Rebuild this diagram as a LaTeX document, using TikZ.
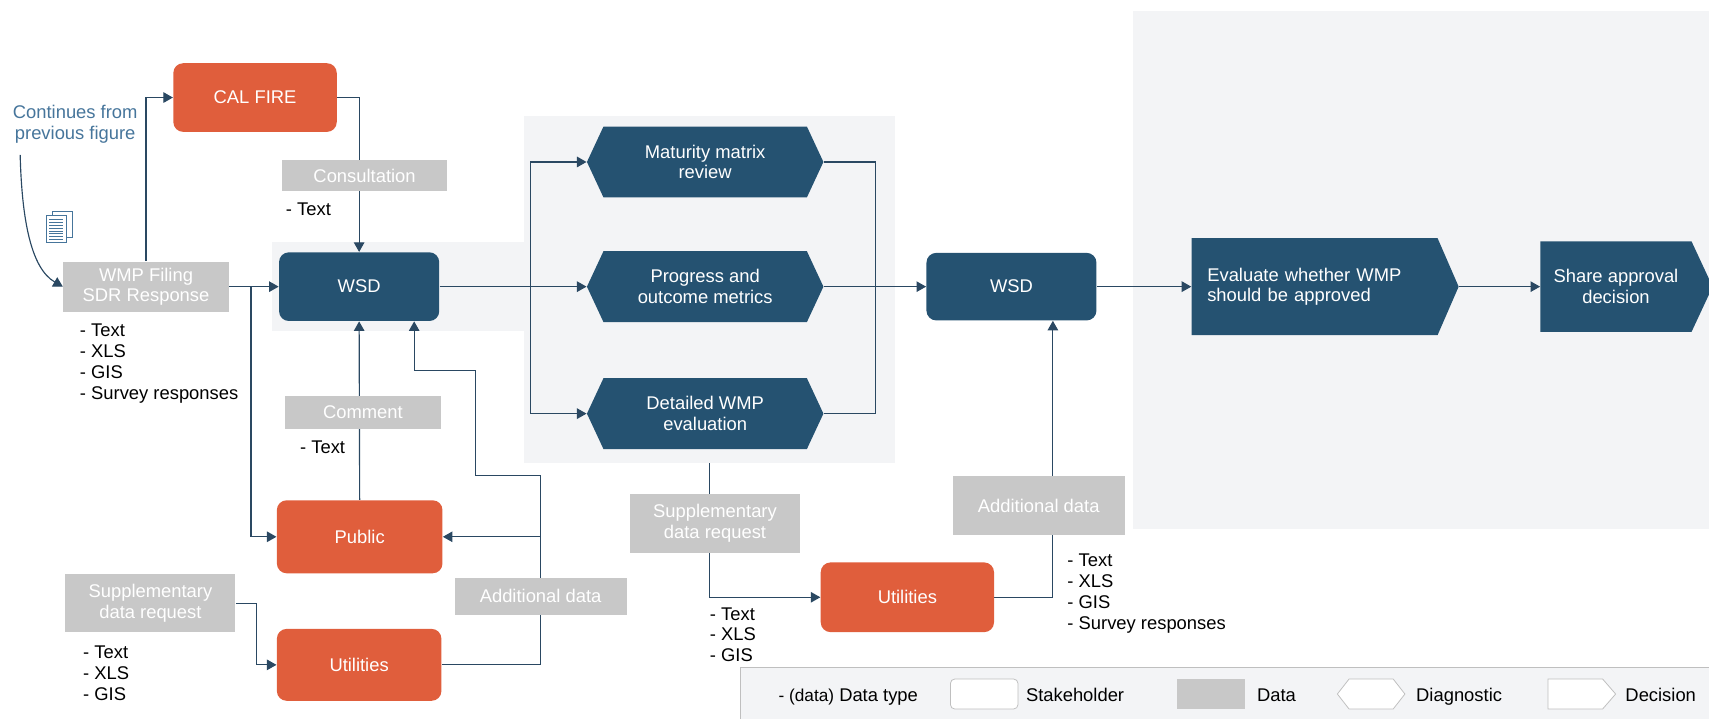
\documentclass[tikz,border=0pt]{standalone}
\usepackage{fontspec}
\setmainfont{Liberation Sans}
\usetikzlibrary{arrows.meta,shapes.symbols}
\definecolor{calorange}{HTML}{E05E3C}
\definecolor{wsdblue}{HTML}{255271}
\definecolor{linkblue}{HTML}{2A4862}
\definecolor{datagray}{HTML}{C8C8C8}
\definecolor{panelgray}{HTML}{F3F4F6}
\definecolor{noteblue}{HTML}{46759B}
\definecolor{legendline}{HTML}{BFBFBF}
\newcommand\figfont{\fontsize{9.6}{10.8}\selectfont}
\newcommand\listfont{\fontsize{9.6}{10.9}\selectfont}
\pgfdeclarelayer{panels}
\pgfdeclarelayer{links}
\pgfsetlayers{panels,links,main}
\tikzset{
  block/.style={rectangle, inner sep=1pt, align=center, text=white, font=\figfont},
  stake/.style={block, rounded corners=0.18cm, fill=calorange},
  wsd/.style={block, rounded corners=0.18cm, fill=wsdblue},
  datum/.style={block, fill=datagray},
  diag/.style={block, signal, signal to=east and west, signal pointer angle=130,
    fill=wsdblue, minimum width=4.34cm, minimum height=1.3cm},
  decide/.style={block, signal, signal to=east, fill=wsdblue, anchor=west},
  flow/.style={draw=linkblue, line width=0.6pt, -{Triangle[length=5pt,width=5.5pt]}},
  link/.style={draw=linkblue, line width=0.6pt},
  dlist/.style={anchor=north west, inner sep=0pt, align=left, font=\listfont},
  lgshape/.style={draw=legendline, fill=white, minimum width=1.24cm, minimum height=0.55cm, inner sep=0pt},
  lgtext/.style={inner sep=0pt, font=\figfont, anchor=base west},
}

\begin{document}
\begin{tikzpicture}[x=0.02cm, y=-0.02cm]
  \useasboundingbox (0,0) rectangle (1568,659);
  \clip (0,0) rectangle (1568,659);

  % shaded panels
  \begin{pgfonlayer}{panels}
    \fill[panelgray] (250,222) rectangle (481,303.4);
    \fill[panelgray] (481,106) rectangle (821,425);
    \fill[panelgray] (1039.5,10) rectangle (1568,485.5);
    \draw[legendline, fill=panelgray] (679,612.5) rectangle (1575,665);
  \end{pgfonlayer}

  % note and document icon
  \node[font=\figfont, text=noteblue, align=center, inner sep=0pt] (prevnote) at (69,114) {Continues from\\previous figure};
  \coordinate (fromprev) at (18.5,142);
  \draw[noteblue, fill=white, line width=0.4pt] (47.7,193.6) rectangle (66.7,217.4);
  \draw[noteblue, fill=white, line width=0.4pt] (42.8,198) rectangle (60.6,222.7);
  \foreach \y in {201.5,204.1,...,220}
    \draw[noteblue, line width=0.4pt] (45.3,\y) -- (58.1,\y);

  % data
  \node[datum, minimum width=3.04cm, minimum height=0.92cm] (filing) at (134,263) {WMP Filing\\SDR Response};
  \node[datum, minimum width=3.02cm, minimum height=0.57cm] (consult) at (334.5,161) {Consultation};
  \node[datum, minimum width=2.87cm, minimum height=0.62cm] (comment) at (333,378.5) {Comment};
  \node[datum, minimum width=3.12cm, minimum height=1.06cm] (supreq1) at (138,553.5) {Supplementary\\data request};
  \node[datum, minimum width=3.16cm, minimum height=0.68cm] (adddata1) at (496,547) {Additional data};
  \node[datum, minimum width=3.12cm, minimum height=1.08cm] (supreq2) at (656,480) {Supplementary\\data request};
  \node[datum, minimum width=3.15cm, minimum height=1.08cm] (adddata2) at (953,464) {Additional data};

  % stakeholders
  \node[stake, minimum width=3cm, minimum height=1.26cm] (calfire) at (234,89.5) {CAL FIRE};
  \node[wsd, minimum width=2.94cm, minimum height=1.26cm] (wsd1) at (329.5,263) {WSD};
  \node[stake, minimum width=3.04cm, minimum height=1.34cm] (public) at (330,492.5) {Public};
  \node[stake, minimum width=3.02cm, minimum height=1.32cm] (util1) at (329.5,610) {Utilities};
  \node[stake, minimum width=3.18cm, minimum height=1.28cm] (util2) at (832.5,548) {Utilities};
  \node[wsd, minimum width=3.12cm, minimum height=1.24cm] (wsd2) at (928,263) {WSD};

  % diagnostics and decisions
  \node[diag] (maturity) at (647,148.6) {Maturity matrix\\review};
  \node[diag] (progress) at (647,263) {Progress and\\outcome metrics};
  \node[diag] (detailed) at (647,379.5) {Detailed WMP\\evaluation};
  \node[decide, minimum width=4.9cm, minimum height=1.78cm, signal pointer angle=133,
    text width=3.94cm, align=left] (evaluate) at (1093,263) {Evaluate whether WMP\\should be approved};
  \node[decide, minimum width=3.16cm, minimum height=1.66cm, signal pointer angle=130] (share) at (1413,263) {Share approval\\decision};

  % data types
  \node[dlist] (filingtypes) at (73,297) {- Text\\- XLS\\- GIS\\- Survey responses};
  \node[dlist] (consulttypes) at (262,186) {- Text};
  \node[dlist] (commenttypes) at (275,404) {- Text};
  \node[dlist] (req1types) at (76,592) {- Text\\- XLS\\- GIS};
  \node[dlist] (req2types) at (651,557) {- Text\\- XLS\\- GIS};
  \node[dlist] (add2types) at (979,508) {- Text\\- XLS\\- GIS\\- Survey responses};

  \coordinate (splitL) at (487,263);
  \coordinate (joinR) at (803,263);
  \coordinate (reqout) at (651,425);

  % connectors
  \begin{pgfonlayer}{links}
    \draw[flow] (fromprev) .. controls (20,200) and (28,246) .. (filing.west);
    \draw[flow] (filing.north) |- (calfire.west);
    \draw[flow] (calfire.east) -| (wsd1.north);
    \draw[flow] (filing.east) -- (wsd1.west);
    \draw[flow] (filing.east) ++(20,0) |- (public.west);
    \draw[flow] (public.north) -- (wsd1.south);
    \draw[flow] (supreq1.east) -- ++(19,0) |- (util1.west);
    \draw[flow] (util1.east) -| (496,436) -| (436,340) -| (380,0 |- wsd1.south);
    \draw[flow] (public.east -| adddata1) -- (public.east);
    \draw[flow] (wsd1.east) -- (progress.west);
    \draw[flow] (splitL) |- (maturity.west);
    \draw[flow] (splitL) |- (detailed.west);
    \draw[link] (maturity.east) -| (joinR) |- (detailed.east);
    \draw[flow] (progress.east) -- (wsd2.west);
    \draw[flow] (reqout) |- (util2.west);
    \draw[flow] (util2.east) -| (966,0 |- wsd2.south);
    \draw[flow] (wsd2.east) -- (evaluate.west);
    \draw[flow] (evaluate.east) -- (share.west);
  \end{pgfonlayer}

  % legend
  \node[lgtext] (lgtype) at (714,644) {{\fontsize{9}{9}\selectfont- (data)} Data type};
  \node[lgshape, rounded corners=0.08cm] (lgstake) at (903,636.75) {};
  \node[lgtext] (lgstaketext) at (941,644) {Stakeholder};
  \node[lgshape, draw=none, fill=datagray] (lgdata) at (1111,636.75) {};
  \node[lgtext] (lgdatatext) at (1153,644) {Data};
  \node[lgshape, signal, signal to=east and west, signal pointer angle=104] (lgdiag) at (1258,636.75) {};
  \node[lgtext] (lgdiagtext) at (1299,644) {Diagnostic};
  \node[lgshape, signal, signal to=east, signal pointer angle=98, anchor=west] (lgdecide) at (1420,636.75) {};
  \node[lgtext] (lgdecidetext) at (1491,644) {Decision};
\end{tikzpicture}
\end{document}
